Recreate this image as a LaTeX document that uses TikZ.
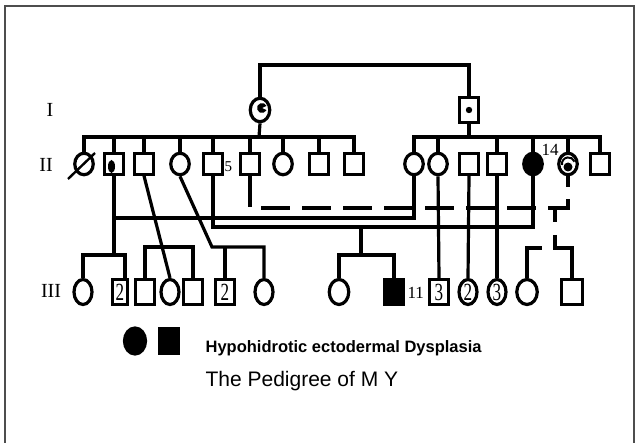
\documentclass[tikz,border=0pt]{standalone}
\usepackage{fontspec}
\setmainfont{Liberation Serif}
\setsansfont{Liberation Sans}
\usepackage{tikz}
\usetikzlibrary{shapes.geometric}
\definecolor{FrameGray}{HTML}{4D4D4D}
\newcommand{\tallnum}[1]{\scalebox{0.9}[1.3]{#1}}

\begin{document}
\begin{tikzpicture}[x=1pt, y=-1pt, line width=3.2pt,
    male/.style={draw, rectangle, inner sep=0pt, minimum width=18.5, minimum height=20.5},
    female/.style={draw, ellipse, inner sep=0pt, minimum width=18.5, minimum height=21.5},
    maleIII/.style={male, minimum height=25},
    femaleIII/.style={female, minimum width=18, minimum height=25},
    affected/.style={fill=black},
    gen/.style={font=\fontsize{20}{20}\selectfont, inner sep=0pt},
    num/.style={font=\fontsize{19}{19}\selectfont},
    tag/.style={font=\fontsize{17}{17}\selectfont, inner sep=0pt},
    brokenline/.style={dash pattern=on 29pt off 12pt}]
  \useasboundingbox (0,0) rectangle (639,443);
  \draw[FrameGray, line width=1.3pt] (5,443) |- (634,6) -- (634,443);

  % generation labels
  \node[gen] (gI) at (50,110) {I};
  \node[gen] (gII) at (46,165) {II};
  \node[gen] (gIII) at (51,291) {III};

  % generation I
  \node[female, minimum width=19.5, minimum height=23.5] (I1) at (260,110) {};
  \node[male, minimum height=24.5] (I2) at (469,110) {};
  \fill (I1.center) ++(2,-2) -- ++(25:5) arc[start angle=25, end angle=335, radius=5] -- cycle;
  \fill (I2.center) circle[radius=3.2];
  \coordinate (mateI) at (364,65);
  \draw (I1.north) |- (mateI) -| (I2.north);

  % generation II
  \node[female] (IIa) at (84,164) {};
  \node[male] (IIb) at (114,164) {};
  \node[male] (IIc) at (144,164) {};
  \node[female] (IId) at (180,164) {};
  \node[male] (IIe) at (213,164) {};
  \node[male] (IIf) at (250,164) {};
  \node[female] (IIg) at (283,164) {};
  \node[male] (IIh) at (319,164) {};
  \node[male] (IIi) at (354,164) {};
  \node[female] (IIj) at (414,164) {};
  \node[female] (IIk) at (438,164) {};
  \node[male] (IIl) at (469,164) {};
  \node[male] (IIm) at (497,164) {};
  \node[female, affected] (IIn) at (533,164) {};
  \node[female] (IIo) at (568,164) {};
  \node[male] (IIp) at (600,164) {};
  \node[tag, anchor=west, font=\fontsize{15}{15}\selectfont] (lab5) at (223,167) {5};
  \node[tag] (lab14) at (550,150) {14};

  \draw[line width=2.4pt] (IIa.center) ++(-16,15) -- ++(27,-26);
  \fill (IIb.center) ++(-2.5,2.5) ellipse[x radius=3.5, y radius=6.5];
  \fill (IIo.center) ++(0,3) circle[radius=4.5];
  \draw[line width=2pt] (IIo.center) ++(-6,1) arc[start angle=170, end angle=340, radius=6.5];

  \coordinate (sibL) at (259,137);
  \coordinate (sibR) at (469,137);
  \draw (I1.south) -- (sibL);
  \draw (I2.south) -- (sibR);
  \draw (IIa.north) |- (sibL) -| (IIi.north);
  \draw (IIj.north) |- (sibR) -| (IIp.north);
  \foreach \nm in {IIb,IIc,IId,IIe,IIf,IIg,IIh,IIk,IIm,IIn,IIo}
    \draw (\nm.north) -- (\nm.north |- sibL);

  % generation III
  \node[femaleIII] (IIIa) at (83,292) {};
  \node[maleIII, num, minimum width=15.5] (IIIb) at (120,292) {\tallnum{2}};
  \node[maleIII] (IIIc) at (145,292) {};
  \node[femaleIII] (IIId) at (170,292) {};
  \node[maleIII] (IIIe) at (193,292) {};
  \node[maleIII, num] (IIIf) at (225,292) {\tallnum{2}};
  \node[femaleIII] (IIIg) at (264,292) {};
  \node[femaleIII, minimum width=19.5] (IIIh) at (339,292) {};
  \node[maleIII, affected] (IIIi) at (394,292) {};
  \node[maleIII, num] (IIIj) at (439,292) {\tallnum{3}};
  \node[femaleIII, num] (IIIk) at (468,292) {\tallnum{2}};
  \node[femaleIII, num] (IIIl) at (497,292) {\tallnum{3}};
  \node[femaleIII, minimum width=20.5] (IIIm) at (527,292) {};
  \node[maleIII, minimum width=20.5] (IIIn) at (572,292) {};
  \node[tag, anchor=west] (lab11) at (406,293) {11};

  % II-b and II-j
  \coordinate (mateB) at (264,218);
  \coordinate (sibB) at (114,255);
  \draw (IIb.south) |- (mateB) -| (IIj.south);
  \draw (IIb.south |- mateB) -- (sibB);
  \draw (IIIa.north) |- (sibB) -| ([xshift=5pt]IIIb.north);

  % II-e and II-n
  \coordinate (mateE) at (361,227);
  \coordinate (sibE) at (361,255);
  \draw (IIe.south) |- (mateE) -| (IIn.south);
  \draw (mateE) -- (sibE);
  \draw (IIIh.north) |- (sibE) -| (IIIi.north);

  % II-c and II-d
  \coordinate (sibC) at (167,247);
  \coordinate (sibD) at (212,247);
  \draw (IIc.south) -- (IIId.north);
  \draw (IIIc.north) |- (sibC) -| (IIIe.north);
  \draw (IId.south) -- (sibD) -| (IIIg.north);
  \draw (IIIf.north) -- (IIIf.north |- sibD);

  \draw (IIk.south) -- (IIIj.north);
  \draw (IIl.south) -- (IIIk.north);
  \draw (IIm.south) -- (IIIl.north);

  % II-f and II-o, broken lines
  \coordinate (dashL) at (261,208);
  \coordinate (mateF) at (555,208);
  \coordinate (sibF) at (542,248);
  \draw (IIf.south) -- ++(0,31);
  \draw[brokenline] (dashL) -- (IIo.south |- mateF) -- (IIo.south);
  \draw[dash pattern=on 14pt off 13pt on 60pt off 1pt] (mateF) -- ++(0,40) -| (IIIn.north);
  \draw (IIIm.north) |- (sibF);

  % key
  \node[female, affected, minimum width=21, minimum height=26] (keyF) at (135,341) {};
  \node[male, affected, minimum width=19, minimum height=25] (keyM) at (169,341) {};
  \node[anchor=base west, inner sep=0pt, font=\sffamily\bfseries\fontsize{16.5}{16.5}\selectfont] (keyText) at (204,352) {Hypohidrotic ectodermal Dysplasia};
  \node[anchor=base west, inner sep=0pt, font=\sffamily\fontsize{21}{21}\selectfont] (title) at (204,386) {The Pedigree of M Y};
\end{tikzpicture}
\end{document}
